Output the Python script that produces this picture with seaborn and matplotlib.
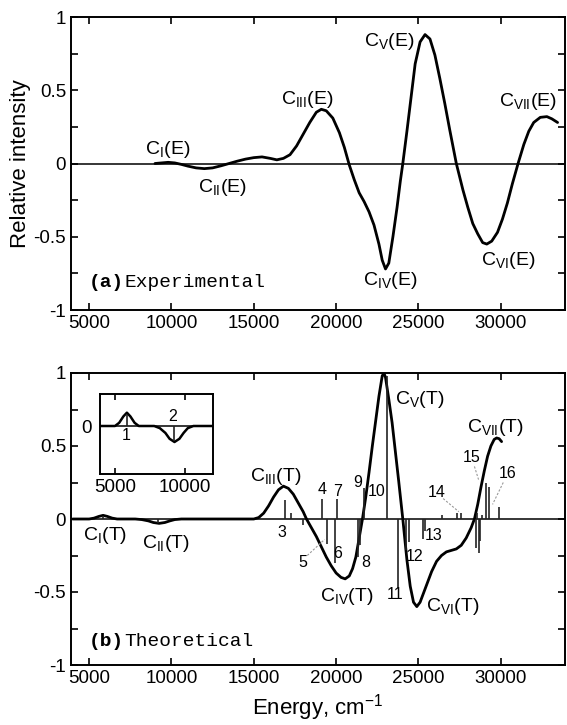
import matplotlib
matplotlib.use("Agg")
import matplotlib.pyplot as plt
import seaborn as sns
import pandas as pd
from matplotlib.ticker import MultipleLocator, FixedLocator, FuncFormatter

# experimental spectrum
exp_energy = [9000, 9400, 9800, 10200, 10600, 11000, 11500, 12000, 12500, 13000,
              13500, 14000, 14500, 15000, 15500, 16000, 16400, 16800, 17200, 17600,
              18000, 18400, 18800, 19100, 19400, 19800, 20200, 20500, 20800, 21100,
              21400, 21700, 22000, 22300, 22600, 22800, 23000, 23200, 23450, 23700,
              23900, 24050, 24300, 24550, 24800, 25100, 25400, 25700, 26000, 26300,
              26600, 26900, 27300, 27700, 28000, 28300, 28600, 28900, 29150, 29450,
              29800, 30100, 30400, 30700, 31050, 31400, 31700, 32000, 32400, 32800,
              33100, 33450]
exp_intensity = [0.0, 0.004, 0.008, 0.004, -0.006, -0.018, -0.03, -0.035, -0.03, -0.016,
                 0.0, 0.016, 0.03, 0.04, 0.045, 0.035, 0.025, 0.035, 0.06, 0.12,
                 0.2, 0.28, 0.35, 0.37, 0.36, 0.31, 0.21, 0.11, -0.01, -0.11,
                 -0.2, -0.26, -0.33, -0.42, -0.55, -0.66, -0.72, -0.68, -0.5, -0.3,
                 -0.12, 0.0, 0.22, 0.45, 0.68, 0.83, 0.88, 0.85, 0.74, 0.58,
                 0.41, 0.23, 0.0, -0.18, -0.3, -0.41, -0.48, -0.54, -0.55, -0.53,
                 -0.47, -0.38, -0.27, -0.14, 0.0, 0.13, 0.22, 0.28, 0.315, 0.32,
                 0.305, 0.28]

# theoretical spectrum
theo_energy = [4000, 5000, 5300, 5600, 5850, 6100, 6400, 6700, 7800, 8200,
               8600, 8900, 9250, 9600, 9900, 10200, 10600, 15000, 15300, 15600,
               15900, 16200, 16500, 16800, 17100, 17400, 17700, 18000, 18200, 18500,
               18800, 19100, 19400, 19700, 20000, 20300, 20550, 20800, 21000, 21200,
               21400, 21600, 21800, 22000, 22200, 22400, 22600, 22800, 22900, 23000,
               23200, 23400, 23600, 23800, 24050, 24300, 24500, 24700, 24900, 25100,
               25300, 25500, 25800, 26100, 26400, 26700, 27000, 27300, 27600, 27900,
               28200, 28400, 28600, 28800, 29000, 29200, 29400, 29600, 29750, 29900,
               30050]
theo_intensity = [0.0, 0.0, 0.006, 0.018, 0.025, 0.018, 0.006, 0.0, 0.0, -0.004,
                  -0.013, -0.024, -0.03, -0.024, -0.013, -0.004, 0.0, 0.0, 0.01, 0.04,
                  0.09, 0.15, 0.2, 0.225, 0.21, 0.17, 0.11, 0.05, 0.0, -0.06,
                  -0.12, -0.19, -0.26, -0.32, -0.37, -0.4, -0.41, -0.39, -0.34, -0.26,
                  -0.13, 0.0, 0.15, 0.32, 0.5, 0.67, 0.84, 0.98, 1.0, 0.97,
                  0.82, 0.66, 0.46, 0.26, 0.0, -0.28, -0.46, -0.57, -0.6, -0.57,
                  -0.51, -0.45, -0.36, -0.29, -0.25, -0.225, -0.215, -0.205, -0.18, -0.13,
                  -0.06, 0.0, 0.1, 0.22, 0.33, 0.43, 0.5, 0.545, 0.555, 0.55,
                  0.53]

# calculated transitions (sticks)
stick_energy = [5860, 9200, 16910, 17270, 18000, 19150, 19450, 19940, 20060, 21330,
                21480, 21700, 23090, 23760, 24250, 24400, 25270, 25380, 26420, 27330,
                27580, 28480, 28560, 28650, 28750, 28850, 29090, 29270, 29880]
stick_height = [0.02, -0.028, 0.13, 0.04, -0.04, 0.14, -0.17, -0.30, 0.14, -0.26,
                -0.18, 0.21, 0.98, -0.47, -0.21, -0.16, -0.14, -0.08, 0.03, 0.04,
                0.04, -0.2, 0.04, -0.23, -0.15, 0.03, 0.25, 0.22, 0.08]

exp_labels = [r"C$_{\rm I}$(E)", r"C$_{\rm II}$(E)", r"C$_{\rm III}$(E)", r"C$_{\rm IV}$(E)",
              r"C$_{\rm V}$(E)", r"C$_{\rm VI}$(E)", r"C$_{\rm VII}$(E)"]
exp_label_x = [9790, 13120, 18270, 23300, 23240, 30450, 31660]
exp_label_y = [0.095, -0.165, 0.44, -0.8, 0.83, -0.66, 0.42]

theo_labels = [r"C$_{\rm I}$(T)", r"C$_{\rm II}$(T)", r"C$_{\rm III}$(T)", r"C$_{\rm IV}$(T)",
               r"C$_{\rm V}$(T)", r"C$_{\rm VI}$(T)", r"C$_{\rm VII}$(T)"]
theo_label_x = [5970, 9670, 16300, 20670, 25100, 27060, 29700]
theo_label_y = [-0.11, -0.17, 0.29, -0.53, 0.82, -0.6, 0.63]

num_labels = ["3", "4", "5", "6", "7", "8", "9", "10", "11", "12", "13", "14", "15", "16"]
num_x = [16730, 19150, 18000, 20120, 20060, 21820, 21330, 22480, 23580, 24790, 25940, 26120, 28240, 30420]
num_y = [-0.09, 0.2, -0.3, -0.235, 0.185, -0.3, 0.25, 0.185, -0.52, -0.26, -0.11, 0.18, 0.42, 0.31]

sns.set_theme(style="ticks")
plt.rcParams["font.family"] = ["Liberation Sans", "DejaVu Sans"]
plt.rcParams["mathtext.fontset"] = "custom"
plt.rcParams["mathtext.rm"] = "Liberation Sans"
plt.rcParams["mathtext.it"] = "Liberation Sans:italic"
plt.rcParams["axes.linewidth"] = 1.4
plt.rcParams["axes.edgecolor"] = "black"
plt.rcParams["text.color"] = "black"
plt.rcParams["axes.labelcolor"] = "black"

exp_df = pd.DataFrame({"energy": exp_energy, "intensity": exp_intensity})
theo_df = pd.DataFrame({"energy": theo_energy, "intensity": theo_intensity})

fig = plt.figure(figsize=(5.67, 7.25), dpi=100)
ax1 = fig.add_axes([71 / 567, 1 - 310 / 725, 494 / 567, 293 / 725])
ax2 = fig.add_axes([71 / 567, 1 - 665 / 725, 494 / 567, 292 / 725])

fmt = FuncFormatter(lambda v, p: ("%g" % v).replace("\u2212", "-"))


def style_axes(ax):
    ax.set_xlim(3900, 33900)
    ax.set_ylim(-1, 1)
    ax.xaxis.set_major_locator(FixedLocator([5000, 10000, 15000, 20000, 25000, 30000]))
    ax.yaxis.set_major_locator(MultipleLocator(0.5))
    ax.yaxis.set_minor_locator(MultipleLocator(0.25))
    ax.yaxis.set_major_formatter(fmt)
    ax.tick_params(which="both", direction="in", top=True, right=True, labelsize=13.5,
                   colors="black", width=1.2, length=5)
    ax.axhline(0, color="black", lw=1.1, zorder=1)
    ax.set_xlabel("")
    ax.set_ylabel("")


def panel_tag(ax, y, tag, word):
    t = ax.text(5000, y, tag, fontsize=14, family="Liberation Mono", weight="bold",
                va="baseline")
    ax.annotate(word, xy=(1, 0), xycoords=t, fontsize=14, family="Liberation Mono",
                va="bottom")


# (a) experimental
sns.lineplot(data=exp_df, x="energy", y="intensity", ax=ax1, color="black", lw=2.0,
             sort=False, estimator=None)
style_axes(ax1)
ax1.set_ylabel("Relative intensity", fontsize=16, labelpad=2)
for t, x, y in zip(exp_labels, exp_label_x, exp_label_y):
    ax1.text(x, y, t, fontsize=14, ha="center", va="center")
panel_tag(ax1, -0.84, "(a)", "Experimental")

# (b) theoretical
sns.lineplot(data=theo_df, x="energy", y="intensity", ax=ax2, color="black", lw=2.0,
             sort=False, estimator=None)
ax2.vlines(stick_energy, 0, stick_height, color="#222222", lw=1.2)
style_axes(ax2)
ax2.set_xlabel("Energy, cm$^{-1}$", fontsize=16, labelpad=4)
for t, x, y in zip(theo_labels, theo_label_x, theo_label_y):
    ax2.text(x, y, t, fontsize=14, ha="center", va="center")
for t, x, y in zip(num_labels, num_x, num_y):
    ax2.text(x, y, t, fontsize=11.5, ha="center", va="center")
panel_tag(ax2, -0.87, "(b)", "Theoretical")

# leader lines for some of the stick numbers
for (x0, y0), (x1, y1) in [((18250, -0.25), (19300, -0.14)),
                           ((26500, 0.14), (27450, 0.05)),
                           ((28400, 0.36), (28650, 0.27)),
                           ((30150, 0.25), (29500, 0.1))]:
    ax2.plot([x0, x1], [y0, y1], color="#999999", lw=0.8, ls=(0, (2, 1.5)))

# inset with the low-energy region
axi = fig.add_axes([100 / 567, 1 - 474 / 725, 113 / 567, 80 / 725])
sns.lineplot(data=theo_df, x="energy", y="intensity", ax=axi, color="black", lw=1.8,
             sort=False, estimator=None)
axi.vlines(stick_energy[:2], 0, stick_height[:2], color="#222222", lw=1.2)
axi.axhline(0, color="black", lw=1.1, zorder=1)
axi.set_xlim(3930, 12000)
axi.set_ylim(-0.09, 0.06)
axi.xaxis.set_major_locator(FixedLocator([5000, 10000]))
axi.yaxis.set_major_locator(FixedLocator([0]))
axi.tick_params(axis="x", direction="in", top=True, labelsize=13.5, length=4, width=1.2,
                colors="black")
axi.tick_params(axis="y", direction="in", length=0, labelsize=13.5, pad=6, colors="black")
axi.set_xlabel("")
axi.set_ylabel("")
axi.text(5790, -0.017, "1", fontsize=11.5, ha="center", va="center")
axi.text(9140, 0.017, "2", fontsize=11.5, ha="center", va="center")

fig.savefig("out.png", dpi=100)
